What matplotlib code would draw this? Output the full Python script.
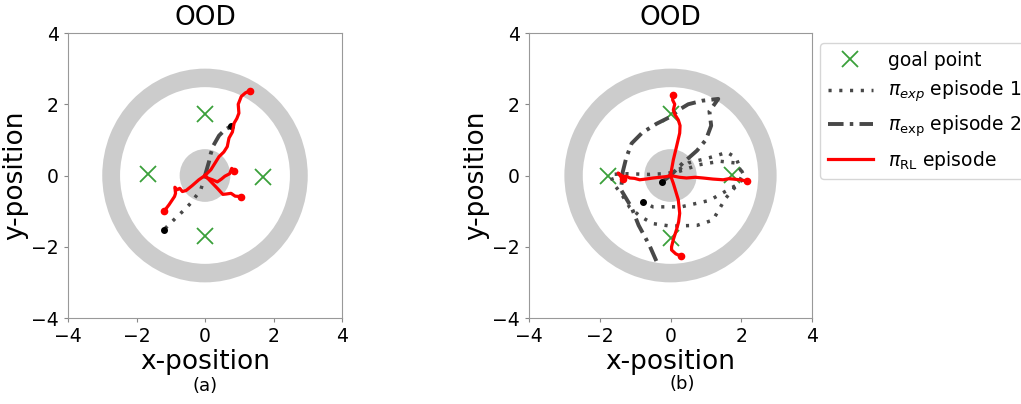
import matplotlib
matplotlib.use("Agg")
import matplotlib.pyplot as plt
from matplotlib.patches import Wedge, Circle
import numpy as np

# goal points
goals_a_x = [0.0, -1.65, 1.68, 0.0]
goals_a_y = [1.72, 0.05, -0.05, -1.70]
goals_b_x = [0.0, -1.76, 1.75, 0.0]
goals_b_y = [1.72, 0.0, 0.02, -1.76]

# (a) trajectories
rl_a = [
    [(0, 0), (0.17, 0.16), (0.30, 0.36), (0.41, 0.53), (0.55, 0.66), (0.65, 0.81),
     (0.70, 1.05), (0.80, 1.22), (0.85, 1.47), (0.93, 1.60), (0.99, 1.75),
     (0.97, 2.0), (1.06, 2.22), (1.18, 2.32), (1.31, 2.38)],
    [(0, 0), (-0.18, -0.12), (-0.37, -0.28), (-0.55, -0.42), (-0.66, -0.45),
     (-0.74, -0.36), (-0.81, -0.40), (-0.88, -0.33), (-0.86, -0.50), (-0.89, -0.59),
     (-1.05, -0.82), (-1.20, -1.01)],
    [(0, 0), (0.07, -0.07), (0.22, -0.12), (0.36, -0.18), (0.48, -0.10), (0.58, -0.02),
     (0.72, 0.05), (0.78, 0.2), (0.85, 0.14)],
    [(0, 0), (0.12, -0.12), (0.25, -0.25), (0.38, -0.38), (0.52, -0.53), (0.62, -0.52),
     (0.76, -0.50), (0.88, -0.58), (1.04, -0.59)],
]
exp1_a = [(0, 0), (-0.06, -0.2), (-0.13, -0.42), (-0.28, -0.6), (-0.42, -0.78),
          (-0.62, -0.98), (-0.81, -1.15), (-1.02, -1.35), (-1.20, -1.52)]
exp2_a = [(0, 0), (0.06, 0.2), (0.12, 0.40), (0.17, 0.62), (0.25, 0.85),
          (0.41, 1.12), (0.58, 1.28), (0.75, 1.38)]

# (b) trajectories
rl_b = [
    [(0, 0), (0.08, 0.44), (0.17, 0.81), (0.26, 1.19), (0.27, 1.40), (0.22, 1.56),
     (0.12, 1.72), (0.08, 1.84), (0.12, 2.0), (0.06, 2.12), (0.08, 2.26)],
    [(0, 0), (-0.11, -0.03), (-0.30, -0.05), (-0.49, -0.07), (-0.70, -0.10),
     (-0.87, -0.12), (-1.02, -0.08), (-1.15, -0.07), (-1.25, -0.02), (-1.34, -0.03),
     (-1.48, 0.07), (-1.40, -0.04), (-1.34, -0.09)],
    [(0, 0), (0.25, -0.05), (0.45, -0.07), (0.70, -0.05), (0.92, -0.07),
     (1.20, -0.10), (1.49, -0.12), (1.65, -0.09), (1.77, -0.10), (1.95, -0.12),
     (2.15, -0.15)],
    [(0, 0), (0.08, -0.22), (0.15, -0.45), (0.22, -0.68), (0.26, -1.06),
     (0.23, -1.30), (0.17, -1.52), (0.08, -1.80), (0.03, -2.0), (0.03, -2.09),
     (0.15, -2.2), (0.31, -2.27)],
]
exp1_b = [(0, 0), (0.5, 0.35), (1.1, 0.5), (1.6, 0.65), (1.85, 0.5), (1.95, 0.25),
          (2.1, -0.05), (1.85, -0.3), (1.55, -0.65), (1.2, -1.25), (0.75, -1.4),
          (0.0, -1.42), (-0.5, -1.35), (-0.85, -1.15), (-1.15, -0.9), (-1.4, -0.5),
          (-1.6, -0.25), (-1.7, 0.03), (-1.2, 0.05), (-0.6, 0.03), (-0.2, 0.05),
          (0.2, 0.1), (0.8, 0.3), (1.4, 0.4), (1.85, 0.35), (2.05, 0.05),
          (1.9, -0.25), (1.1, -0.7), (0.3, -0.88), (-0.5, -0.88), (-0.79, -0.73)]
exp2_b = [(-0.4, -2.4), (-0.6, -1.95), (-0.9, -1.4), (-1.1, -0.9), (-1.4, -0.4),
          (-1.35, 0.1), (-1.25, 0.5), (-1.1, 0.9), (-0.8, 1.2), (-0.4, 1.45),
          (0.0, 1.65), (0.25, 1.85), (0.5, 2.0), (0.9, 2.1), (1.35, 2.15),
          (1.1, 1.8), (1.15, 1.4), (1.0, 1.0), (0.75, 0.7), (0.35, 0.35),
          (0.0, 0.0), (-0.23, -0.17)]

ticks = [-4, -2, 0, 2, 4]

fig = plt.figure(figsize=(10.21, 4.04), dpi=100)
ax1 = fig.add_axes([68 / 1021, 86 / 404, 274 / 1021, 285 / 404])
ax2 = fig.add_axes([529 / 1021, 86 / 404, 283 / 1021, 285 / 404])

ring_col = '#cccccc'
exp_col = '#484848'


def draw(ax, goals_x, goals_y, rl, exp1, exp2):
    ax.add_patch(Wedge((0, 0), 3.0, 0, 360, width=0.52, color=ring_col, lw=0))
    ax.add_patch(Circle((0, 0), 0.74, color=ring_col, lw=0))
    ax.plot(goals_x, goals_y, 'x', color='#3aa03a', ms=11, mew=1.3, label='goal point')
    e1 = np.array(exp1)
    ax.plot(e1[:, 0], e1[:, 1], color=exp_col, lw=2.5, ls=(0, (0.9, 2.2)),
            label=r'$\pi_{exp}$ episode 1')
    ax.plot(e1[-1, 0], e1[-1, 1], 'o', color='black', ms=4)
    e2 = np.array(exp2)
    ax.plot(e2[:, 0], e2[:, 1], color=exp_col, lw=2.8, ls=(0, (4, 1.6, 0.9, 1.6)),
            label=r'$\pi_{\mathrm{exp}}$ episode 2')
    ax.plot(e2[-1, 0], e2[-1, 1], 'o', color='black', ms=4)
    for i, path in enumerate(rl):
        p = np.array(path)
        ax.plot(p[:, 0], p[:, 1], '-', color='red', lw=2.3,
                label=r'$\pi_{\mathrm{RL}}$ episode' if i == 0 else None)
        ax.plot(p[-1, 0], p[-1, 1], 'o', color='red', ms=4.5)
    ax.set_xlim(-4, 4)
    ax.set_ylim(-4, 4)
    ax.set_xticks(ticks)
    ax.set_yticks(ticks)
    ax.tick_params(labelsize=13.5, length=3, color='#888888')
    for s in ax.spines.values():
        s.set_color('#999999')
    ax.set_title('OOD', fontsize=19, pad=6)
    ax.set_xlabel('x-position', fontsize=19, labelpad=2)
    ax.set_ylabel('y-position', fontsize=19, labelpad=2)


draw(ax1, goals_a_x, goals_a_y, rl_a, exp1_a, exp2_a)
draw(ax2, goals_b_x, goals_b_y, rl_b, exp1_b, exp2_b)

fig.legend(*ax2.get_legend_handles_labels(), loc='upper left',
           bbox_to_anchor=(820 / 1021, 1 - 43 / 404), borderaxespad=0,
           fontsize=13.5, handlelength=2.4, frameon=True, fancybox=True,
           edgecolor='#cccccc')

fig.text(205 / 1021, 1 - 386 / 404, '(a)', ha='center', va='center', fontsize=13)
fig.text(682 / 1021, 1 - 384 / 404, '(b)', ha='center', va='center', fontsize=13)

fig.savefig('out.png', dpi=100)
